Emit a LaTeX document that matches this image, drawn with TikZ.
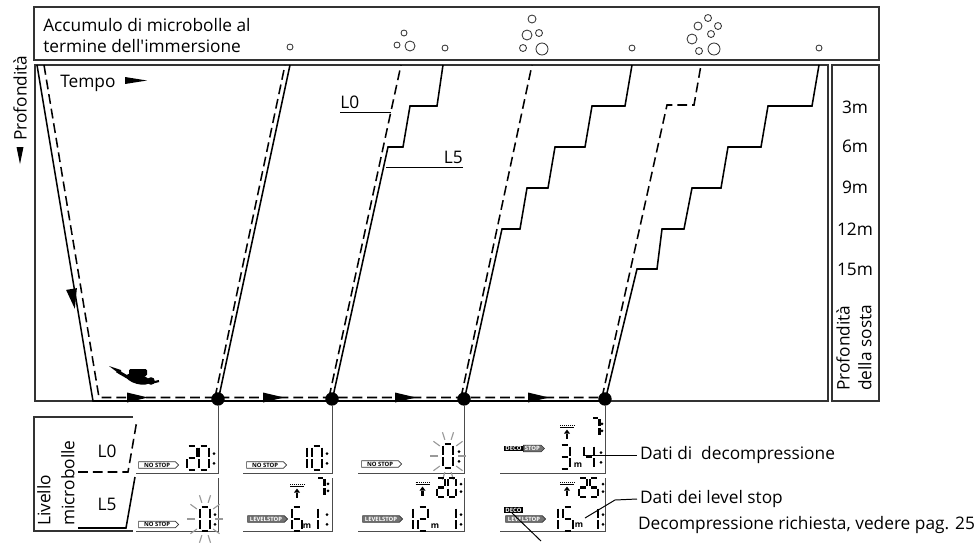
\documentclass[tikz,border=0pt]{standalone}
\usepackage{fontspec}
\setmainfont{Open Sans}[Ligatures=TeXOff]
\usetikzlibrary{positioning,calc,shapes.symbols}

% seven segment cell: 1 wide, 2.4 high, y runs downwards
\def\sgA{.16/0/.84/0}
\def\sgB{1/.16/1/1.06}
\def\sgC{1/1.34/1/2.24}
\def\sgD{.16/2.4/.84/2.4}
\def\sgE{0/1.34/0/2.24}
\def\sgF{0/.16/0/1.06}
\def\sgG{.16/1.2/.84/1.2}
\edef\lcdzero{\sgA,\sgB,\sgC,\sgD,\sgE,\sgF}
\edef\lcdone{\sgB,\sgC}
\edef\lcdtwo{\sgA,\sgB,\sgG,\sgE,\sgD}
\edef\lcdthree{\sgA,\sgB,\sgG,\sgC,\sgD}
\edef\lcdfour{\sgF,\sgG,\sgB,\sgC}
\edef\lcdfive{\sgA,\sgF,\sgG,\sgC,\sgD}
\edef\lcdsix{\sgA,\sgF,\sgG,\sgE,\sgC,\sgD}
\edef\lcdseven{\sgA,\sgB,\sgC}

% \lcd[style]{top left}{width}{segments}
\newcommand{\lcd}[4][lcdseg]{%
  \begin{scope}[shift={(#2)}, scale=#3]
    \foreach \xa/\ya/\xb/\yb in #4 {\draw[#1] (\xa,\ya) -- (\xb,\yb);}
  \end{scope}}
% \lcdcolon{x}{top}{height}
\newcommand{\lcdcolon}[3]{%
  \fill (#1,{#2+#3*0.32}) circle[radius=1.5];
  \fill (#1,{#2+#3*0.72}) circle[radius=1.5];}
% flashing digit
\newcommand{\blink}[1]{%
  \foreach \a in {0,36,...,324}
    \draw[black!40, line width=0.8pt] ($(#1)+(\a:10 and 17)$) -- ($(#1)+(\a:18 and 25)$);}
% surface line with ascent arrow
\newcommand{\ascent}[1]{%
  \draw[line width=0.4pt, densely dotted] ($(#1)+(-7,-1.5)$) -- ($(#1)+(7,-1.5)$);
  \draw[line width=0.5pt] ($(#1)+(-7,0)$) -- ($(#1)+(7,0)$);
  \fill ($(#1)+(-3,6.5)$) -- ($(#1)+(0,2.5)$) -- ($(#1)+(3,6.5)$) -- cycle;
  \fill ($(#1)+(-1.2,6.5)$) rectangle ($(#1)+(1.2,12)$);}

\tikzset{
  frame/.style={draw=black!80, line width=0.9pt},
  panel/.style={draw=black!70, line width=0.7pt},
  lfive/.style={line width=1.1pt},
  lzero/.style={line width=1.1pt, dash pattern=on 7pt off 3.5pt},
  lead/.style={line width=0.7pt},
  bubble/.style={draw=black!80, line width=0.6pt},
  stopdot/.style={circle, fill, inner sep=0pt, minimum size=9.5pt},
  lcdseg/.style={line width=2.1pt},
  lcdsmall/.style={line width=1.6pt},
  tag/.style={shape=signal, signal to=east, draw=black!80, line width=0.4pt, fill=white,
    inner xsep=1pt, inner ysep=0.3pt, minimum width=10mm, minimum height=4.6pt,
    font=\fontsize{4.2}{4.2}\selectfont\bfseries},
  levelfill/.style={fill=black!55, text=white},
  decobox/.style={fill=black, text=white, inner xsep=1pt, inner ysep=0.3pt,
    minimum height=3.8pt, font=\fontsize{4.2}{4.2}\selectfont\bfseries},
  unit/.style={inner sep=0pt, font=\fontsize{6}{6}\selectfont\bfseries}
}

\begin{document}
\begin{tikzpicture}[x=0.25mm, y=-0.25mm, font=\fontsize{12.3}{15}\selectfont]
  \useasboundingbox (0,0) rectangle (976,542);

  % Microbubble band
  \draw[frame] (34,7) rectangle (879,60);
  \node[anchor=base west, inner sep=0pt] (acc1) at (43,31) {Accumulo di microbolle al};
  \node[anchor=base west, inner sep=0pt] (acc2) at (43,52) {termine dell'immersione};
  \draw[bubble] (290,47) circle (3);
  \draw[bubble] (404,33) circle (3);
  \draw[bubble] (397,45) circle (3);
  \draw[bubble] (410,46) circle (5);
  \draw[bubble] (445,48) circle (3);
  \draw[bubble] (532,19) circle (4);
  \draw[bubble] (527,35) circle (5);
  \draw[bubble] (539,33) circle (3.5);
  \draw[bubble] (523,48) circle (3.5);
  \draw[bubble] (542,49) circle (6);
  \draw[bubble] (632,48) circle (3);
  \draw[bubble] (708,18) circle (3.5);
  \draw[bubble] (698,26) circle (4);
  \draw[bubble] (718,26) circle (3.5);
  \draw[bubble] (711,34) circle (3.5);
  \draw[bubble] (692,39) circle (5);
  \draw[bubble] (699,51) circle (3.5);
  \draw[bubble] (714,49) circle (6);
  \draw[bubble] (819,48) circle (3);

  % Axes
  \draw[frame] (35,65) rectangle (828,401);
  \node[rotate=90, anchor=west, inner sep=0pt] (depth) at (20,141) {Profondità};
  \fill (16.5,147) -- (23.5,147) -- (20,164) -- cycle;
  \node[anchor=base west, inner sep=0pt] (tempo) at (60,87) {Tempo};
  \fill (125,77) -- (147,80.5) -- (125,84) -- cycle;

  % Stop depths
  \draw[frame] (832,65) rectangle (879,401);
  \node[anchor=base] (m3) at (855,113) {3m};
  \node[anchor=base] (m6) at (855,152) {6m};
  \node[anchor=base] (m9) at (855,193) {9m};
  \node[anchor=base] (m12) at (855,235) {12m};
  \node[anchor=base] (m15) at (855,275) {15m};
  \node[rotate=90, anchor=north west, align=left, inner sep=0pt,
    font=\fontsize{12.3}{15.5}\selectfont] (stopdepth) at (836,391) {Profondità\\della sosta};

  % Bottom time: L5 solid, L0 dashed
  \draw[lfive] (37,65) -- (93,401) -- (605,401);
  \draw[lzero] (44,65) -- (99,397.5) -- (602,397.5);
  \fill (66.1,289.9) -- (76.9,288.1) -- (74.8,308.7) -- cycle;
  \fill (127,392.5) -- (148,397.5) -- (127,402.5) -- cycle;
  \fill (263,392.5) -- (284,397.5) -- (263,402.5) -- cycle;
  \fill (395,392.5) -- (416,397.5) -- (395,402.5) -- cycle;
  \fill (528,392.5) -- (549,397.5) -- (528,402.5) -- cycle;

  % Diver
  \fill (109,366) -- (121,370) -- (121,375) -- cycle;
  \draw[line width=2.2pt] (117,371) -- (129,378);
  \fill[rotate around={-15:(138,379)}] (138,379) ellipse [x radius=12, y radius=5];
  \fill[rounded corners=1pt] (129,369) rectangle (147,376);
  \fill (151,381) circle (3.8);
  \draw[line width=1.5pt] (151,383) -- (159,381);

  % Ascents
  \draw[lfive] (218,401) -- (290,65);
  \draw[lzero] (215,397.5) -- (285,65);
  \draw[lzero] (329,397.5) -- (401,65);
  \draw[lfive] (332,401) -- (388,147) -- (403,147) -- (410,106) -- (437,106) -- (443,65);
  \draw[lzero] (461,397.5) -- (532,65);
  \draw[lfive] (464,401) -- (502,229) -- (520,229) -- (527,188) -- (548,188) -- (555,147)
    -- (585,147) -- (592,106) -- (625,106) -- (632,65);
  \draw[lzero] (602,397.5) -- (667,105) -- (694,105) -- (701,65);
  \draw[lfive] (605,401) -- (637,269) -- (657,269) -- (662,229) -- (684,229) -- (692,188)
    -- (721,188) -- (728,147) -- (761,147) -- (768,106) -- (812,106) -- (819,65);

  % Profile labels
  \node[anchor=south west, inner sep=0pt] (lzlab) at (340,109) {L0};
  \draw[lead] (lzlab.south west) ++(0,3) -- (391,112);
  \node[anchor=south east, inner sep=0pt] (lflab) at (463,164) {L5};
  \draw[lead] (lflab.south east) ++(0,3) -- (386,167);

  % Readout points
  \node[stopdot] (d1) at (218,399) {};
  \node[stopdot] (d2) at (332,399) {};
  \node[stopdot] (d3) at (464,399) {};
  \node[stopdot] (d4) at (605,399) {};

  % Microbubble level key
  \draw[frame] (133,417) -- (34,417) -- (34,531) -- (133,531);
  \draw[lzero] (78,472) -- (128,472) -- (137,420);
  \draw[lfive] (78,528) -- (126,528) -- (135,477);
  \node (kzero) at (107,451) {L0};
  \node (kfive) at (107,504) {L5};
  \node[rotate=90, anchor=north west, align=left, inner sep=0pt,
    font=\fontsize{12.3}{17}\selectfont] (livello) at (37,526) {Livello\\microbolle};

  % Display 1
  \draw[panel] (d1) -- (218,473) -- (136,473);
  \draw[panel] (218,478) -- (218,531) -- (136,531);
  \node[tag] (ns1) at (157,465) {NO STOP};
  \lcd{187,446}{10}{\lcdtwo}
  \lcd{199,446}{10}{\lcdzero}
  \lcdcolon{214}{446}{24}
  \node[tag] (ns2) at (157,524.5) {NO STOP};
  \lcd{200,507}{10}{\lcdzero}
  \lcdcolon{215}{507}{24}
  \blink{205,519}

  % Display 2
  \draw[panel] (d2) -- (332,473) -- (243,473);
  \draw[panel] (332,478) -- (332,531) -- (243,531);
  \node[tag] (ns3) at (265,465) {NO STOP};
  \lcd{297,446}{10}{\lcdone}
  \lcd{312,446}{10}{\lcdzero}
  \lcdcolon{327}{446}{24}
  \ascent{297,486}
  \lcd[lcdsmall]{317,478}{7.5}{\lcdseven}
  \lcdcolon{328}{478}{18}
  \node[tag, levelfill] (ls1) at (266,519) {LEVELSTOP};
  \lcd{292,507}{10}{\lcdsix}
  \node[unit] (u1) at (307,526) {m};
  \lcd{308,507}{10}{\lcdone}
  \lcdcolon{327}{507}{24}

  % Display 3
  \draw[panel] (d3) -- (464,473) -- (358,473);
  \draw[panel] (464,478) -- (464,531) -- (358,531);
  \node[tag] (ns4) at (380,464) {NO STOP};
  \lcd{443,444}{10}{\lcdzero}
  \lcdcolon{459}{444}{24}
  \blink{448,456}
  \ascent{422.5,484}
  \lcd[lcdsmall]{437,478}{8}{\lcdtwo}
  \lcd[lcdsmall]{448,478}{8}{\lcdzero}
  \lcdcolon{461}{478}{19}
  \node[tag, levelfill] (ls2) at (381,519) {LEVELSTOP};
  \lcd{403,507}{10}{\lcdone}
  \lcd{418,507}{10}{\lcdtwo}
  \node[unit] (u2) at (435,526) {m};
  \lcd{446,507}{10}{\lcdone}
  \lcdcolon{461}{507}{24}

  % Display 4
  \draw[panel] (d4) -- (605,473) -- (500,473);
  \draw[panel] (605,478) -- (605,531) -- (500,531);
  \ascent{567,427}
  \lcd[lcdsmall]{592,418}{7.5}{\lcdseven}
  \lcdcolon{602}{418}{18}
  \node[decobox] (dc1) at (513.5,448.5) {DECO};
  \node[tag, levelfill, anchor=west, minimum width=5mm] (st1) at (dc1.east) {STOP};
  \lcd{560,445}{10}{\lcdthree}
  \node[unit] (u3) at (578,465) {m};
  \lcd{584,445}{10}{\lcdfour}
  \lcdcolon{601}{445}{24}
  \ascent{567,484}
  \lcd[lcdsmall]{579,478}{8}{\lcdtwo}
  \lcd[lcdsmall]{590,478}{8}{\lcdfive}
  \lcdcolon{603}{478}{19}
  \node[decobox] (dc2) at (513.5,510) {DECO};
  \node[tag, levelfill] (ls3) at (524,519) {LEVELSTOP};
  \lcd{548,507}{10}{\lcdone}
  \lcd{563,507}{10}{\lcdfive}
  \node[unit] (u4) at (579,525) {m};
  \lcd{588,507}{10}{\lcdone}
  \lcdcolon{603}{507}{24}

  % Callouts
  \node[anchor=west, inner sep=2pt] (ddeco) at (637,455) {Dati di\ \ decompressione};
  \draw[lead] (583,455) -- (ddeco.west);
  \node[anchor=west, inner sep=2pt] (dlev) at (637,499) {Dati dei level stop};
  \draw[lead] (585,518) -- (615,500) -- (dlev.west);
  \node[anchor=west, inner sep=2pt] (dreq) at (635,525) {Decompressione richiesta, vedere pag. 25};
  \coordinate (reqend) at (541,541);
  \draw[lead] (512,513) -- (reqend);
\end{tikzpicture}
\end{document}
